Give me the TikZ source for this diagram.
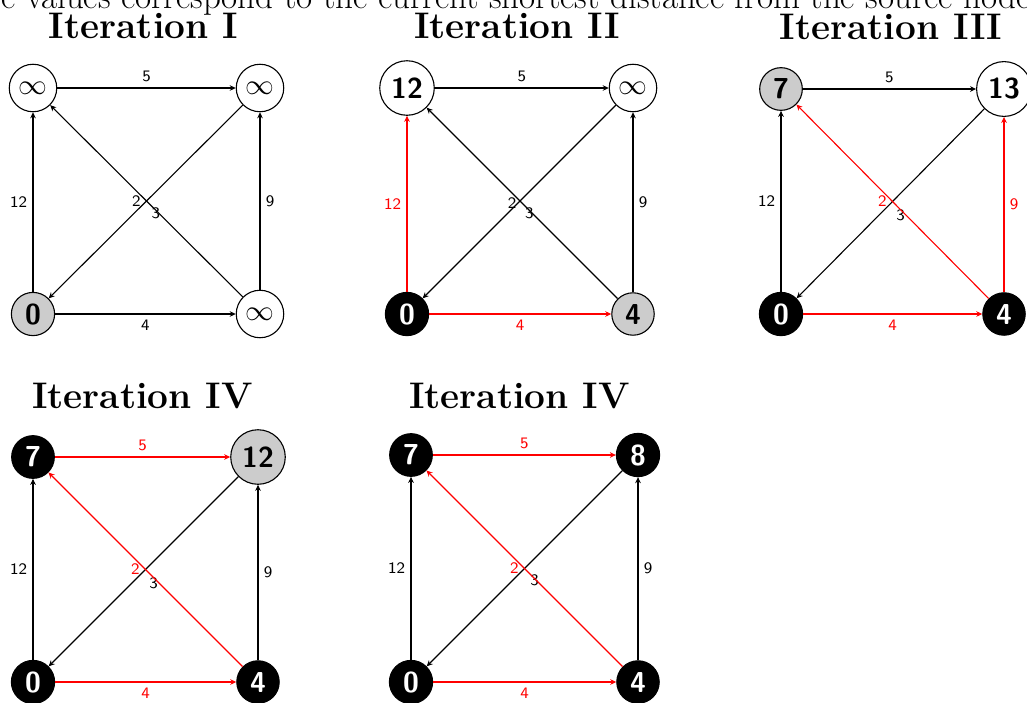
\documentclass[tikz,border=0pt]{standalone}
\usetikzlibrary{arrows.meta}
\tikzset{
  nd/.style={circle, draw=black, line width=0.55pt, inner sep=3pt, fill=white,
    font=\fontsize{14.4}{17}\selectfont\sffamily\bfseries},
  infn/.style={nd, minimum size=23pt, font=\fontsize{13.5}{15}\selectfont},
  cur/.style={fill=black!20},
  done/.style={fill=black, text=white},
  e/.style={draw, line width=0.55pt, -{Stealth[length=3pt,width=2.8pt]}},
  lb/.style={font=\sffamily\fontsize{8}{9.6}\selectfont, inner sep=2.67pt},
  ttl/.style={anchor=base, inner sep=0pt, font=\fontsize{18.5}{22}\selectfont\bfseries},
}
\newcommand\DrawEdges[7]{%
  \draw[e,#2] (#1bl) -- node[lb,left]{12} (#1tl);
  \draw[e,#3] (#1tl) -- node[lb,above]{5} (#1tr);
  \draw[e,#4] (#1bl) -- node[lb,below]{4} (#1br);
  \draw[e,#5] (#1br) -- node[lb,right]{9} (#1tr);
  \draw[e,#7] (#1tr) -- node[lb,below right]{3} (#1bl);
  \draw[e,#6] (#1br) -- node[lb,left]{2} (#1tl);
}
\begin{document}
\begin{tikzpicture}[x=0.5pt,y=-0.5pt]
\useasboundingbox (0,0) rectangle (1027,702);
% cut-off caption line
\node[anchor=base west, inner sep=0pt, font=\fontsize{17.5}{20}\selectfont] (cap) at (-17,8)
  {ue values correspond to the current shortest distance from the source node.};
% titles
\node[ttl] (t1) at (143.5,38.5) {Iteration I};
\node[ttl] (t2) at (517,38.5) {Iteration II};
\node[ttl] (t3) at (891,39.5) {Iteration III};
\node[ttl] (t4) at (142.5,408) {Iteration IV};
\node[ttl] (t5) at (519.5,408) {Iteration IV};
% Graph I
\node[infn] (atl) at (33,88) {$\infty$};
\node[infn] (atr) at (260,88) {$\infty$};
\node[nd,cur] (abl) at (33,314) {0};
\node[infn] (abr) at (260,314) {$\infty$};
\DrawEdges{a}{black}{black}{black}{black}{black}{black}
% Graph II
\node[nd] (btl) at (407,88) {12};
\node[infn] (btr) at (633,88) {$\infty$};
\node[nd,done] (bbl) at (407,314) {0};
\node[nd,cur] (bbr) at (633,314) {4};
\DrawEdges{b}{red}{black}{red}{black}{black}{black}
% Graph III
\node[nd,cur] (ctl) at (781,89) {7};
\node[nd] (ctr) at (1004,89) {13};
\node[nd,done] (cbl) at (781,314) {0};
\node[nd,done] (cbr) at (1004,314) {4};
\DrawEdges{c}{black}{black}{red}{red}{red}{black}
% Graph IV
\node[nd,done] (dtl) at (33,457) {7};
\node[nd,cur] (dtr) at (258,457) {12};
\node[nd,done] (dbl) at (33,682) {0};
\node[nd,done] (dbr) at (258,682) {4};
\DrawEdges{d}{black}{red}{red}{black}{red}{black}
% Graph V
\node[nd,done] (etl) at (411,455) {7};
\node[nd,done] (etr) at (638,455) {8};
\node[nd,done] (ebl) at (411,682) {0};
\node[nd,done] (ebr) at (638,682) {4};
\DrawEdges{e}{black}{red}{red}{black}{red}{black}
\end{tikzpicture}
\end{document}
